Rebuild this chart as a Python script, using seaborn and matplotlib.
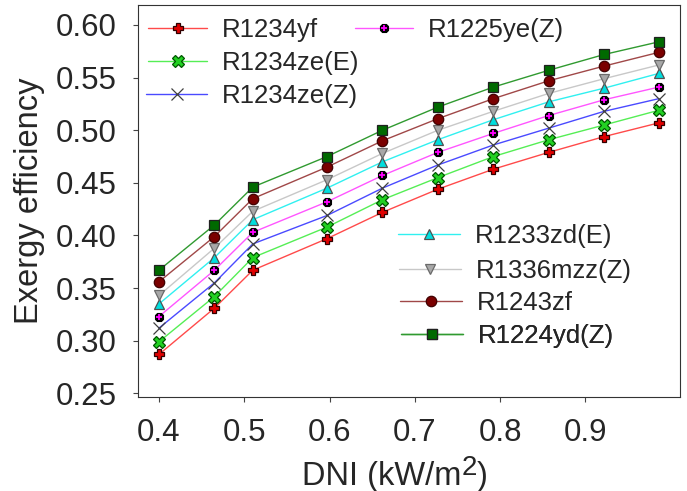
import numpy as np
import pandas as pd
import matplotlib
matplotlib.use("Agg")
import matplotlib.pyplot as plt
from matplotlib.legend_handler import HandlerTuple
import seaborn as sns

# ---- data ----
dni = [0.40, 0.465, 0.51, 0.597, 0.662, 0.727, 0.792, 0.857, 0.922, 0.986]
names = ["R1234yf", "R1234ze(E)", "R1234ze(Z)", "R1225ye(Z)",
         "R1233zd(E)", "R1336mzz(Z)", "R1243zf", "R1224yd(Z)"]
r1234yf   = [0.287, 0.331, 0.367, 0.397, 0.422, 0.444, 0.463, 0.479, 0.494, 0.507]
r1234zeE  = [0.299, 0.342, 0.379, 0.408, 0.434, 0.455, 0.475, 0.491, 0.505, 0.519]
r1234zeZ  = [0.312, 0.355, 0.392, 0.419, 0.445, 0.467, 0.486, 0.502, 0.518, 0.530]
r1225yeZ  = [0.323, 0.367, 0.403, 0.432, 0.457, 0.479, 0.497, 0.514, 0.529, 0.541]
r1233zdE  = [0.335, 0.379, 0.415, 0.445, 0.470, 0.491, 0.510, 0.527, 0.540, 0.554]
r1336mzzZ = [0.343, 0.388, 0.423, 0.453, 0.478, 0.500, 0.518, 0.535, 0.549, 0.562]
r1243zf   = [0.356, 0.399, 0.435, 0.465, 0.490, 0.511, 0.530, 0.547, 0.561, 0.574]
r1224ydZ  = [0.367, 0.410, 0.446, 0.475, 0.500, 0.522, 0.541, 0.557, 0.572, 0.584]
series = [r1234yf, r1234zeE, r1234zeZ, r1225yeZ, r1233zdE, r1336mzzZ, r1243zf, r1224ydZ]
xticks = [0.4, 0.5, 0.6, 0.7, 0.8, 0.9]
yticks = [0.25, 0.30, 0.35, 0.40, 0.45, 0.50, 0.55, 0.60]

# ---- styles ----
styles = {
    "R1234yf":     dict(color="#ff4a4a", marker="P", markerfacecolor="#e00000", markeredgecolor="#300000", markersize=7, markeredgewidth=0.9),
    "R1234ze(E)":  dict(color="#55ee55", marker="X", markerfacecolor="#22d022", markeredgecolor="#005500", markersize=8, markeredgewidth=0.9),
    "R1234ze(Z)":  dict(color="#4a4aff", marker="x", markerfacecolor="#404040", markeredgecolor="#404040", markersize=8, markeredgewidth=0.9),
    "R1225ye(Z)":  dict(color="#ff55ff", marker="8", markerfacecolor="#000000", markeredgecolor="#000000", markersize=7, markeredgewidth=0.8),
    "R1233zd(E)":  dict(color="#30f0f0", marker="^", markerfacecolor="#00dede", markeredgecolor="#505050", markersize=7.5, markeredgewidth=0.9),
    "R1336mzz(Z)": dict(color="#c8c8c8", marker="v", markerfacecolor="#a8a8a8", markeredgecolor="#6a6a6a", markersize=7.5, markeredgewidth=0.9),
    "R1243zf":     dict(color="#a04848", marker="o", markerfacecolor="#7a0000", markeredgecolor="#400000", markersize=7.5, markeredgewidth=0.9),
    "R1224yd(Z)":  dict(color="#309a30", marker="s", markerfacecolor="#006a00", markeredgecolor="#202020", markersize=7, markeredgewidth=0.9),
}

sns.set_theme(style="ticks")
plt.rcParams["font.family"] = ["Liberation Sans", "DejaVu Sans"]

W, H = 687, 491
fig = plt.figure(figsize=(W / 100, H / 100), dpi=100)
ax = fig.add_axes([138 / W, 1 - 396.5 / H, (680 - 138) / W, (396.5 - 5) / H])

handles = {}
for name, vals in zip(names, series):
    df = pd.DataFrame({"DNI": dni, "eff": vals})
    sns.lineplot(data=df, x="DNI", y="eff", ax=ax, linewidth=1.0, legend=False, **styles[name])
    handles[name] = ax.get_lines()[-1]
    if name == "R1225ye(Z)":
        sns.lineplot(data=df, x="DNI", y="eff", ax=ax, legend=False, linestyle="none",
                     marker="+", markersize=4, markeredgewidth=1.3,
                     color="#ff00ff", markeredgecolor="#ff00ff", markerfacecolor="#ff00ff")
        handles[name] = (handles[name], ax.get_lines()[-1])

ax.set_xlim(0.3754, 1.0108)
ax.set_ylim(0.247, 0.619)
ax.set_xticks(xticks)
ax.set_xticklabels([f"{t:.1f}" for t in xticks])
ax.set_yticks(yticks)
ax.set_yticklabels([f"{t:.2f}" for t in yticks])
ax.tick_params(axis="both", direction="out", length=3.6, width=0.8, labelsize=22.5, pad=12, color="#444444")
for s in ax.spines.values():
    s.set_linewidth(0.8)
    s.set_color("#333333")
ax.set_xlabel("")
ax.set_ylabel("Exergy efficiency", fontsize=23.5)
ax.yaxis.set_label_coords(-(138 - 45) / (680 - 138), 0.5)

# ---- x label with large superscript ----
fig.canvas.draw()
r = fig.canvas.get_renderer()
lab_fs = 23.5
base_y = 1 - 485 / H
t1 = fig.text(0, base_y, "DNI (kW/m", fontsize=lab_fs, va="baseline", ha="left")
t2 = fig.text(0, base_y, "2", fontsize=lab_fs * 0.85, va="baseline", ha="left")
t3 = fig.text(0, base_y, ")", fontsize=lab_fs, va="baseline", ha="left")
w1 = t1.get_window_extent(r).width
w2 = t2.get_window_extent(r).width
w3 = t3.get_window_extent(r).width
total = w1 + w2 + w3
x0 = 395 - total / 2
t1.set_x(x0 / W)
t2.set_x((x0 + w1) / W)
t2.set_y(1 - (485 - 10) / H)
t3.set_x((x0 + w1 + w2) / W)

# ---- legends (each entry positioned individually) ----
entries = [
    ("R1234yf", 148, 30, 59),
    ("R1225ye(Z)", 355, 30, 58),
    ("R1234ze(E)", 148, 63, 59),
    ("R1234ze(Z)", 146, 96, 61),
    ("R1233zd(E)", 398, 236, 62),
    ("R1336mzz(Z)", 399, 271, 62),
    ("R1243zf", 400, 303, 62),
    ("R1224yd(Z)", 401, 336, 62),
]
fs = 18.5
em_px = fs * 100 / 72
for name, px, py, hlen in entries:
    leg = ax.legend([handles[name]], [name], loc="center left",
                    bbox_to_anchor=(px / W, 1 - py / H), bbox_transform=fig.transFigure,
                    frameon=False, borderpad=0, borderaxespad=0, fontsize=fs,
                    handlelength=hlen / em_px, handletextpad=15 / em_px,
                    handler_map={tuple: HandlerTuple(ndivide=1, pad=0)})
    ax.add_artist(leg)

fig.savefig("out.png", dpi=100)
